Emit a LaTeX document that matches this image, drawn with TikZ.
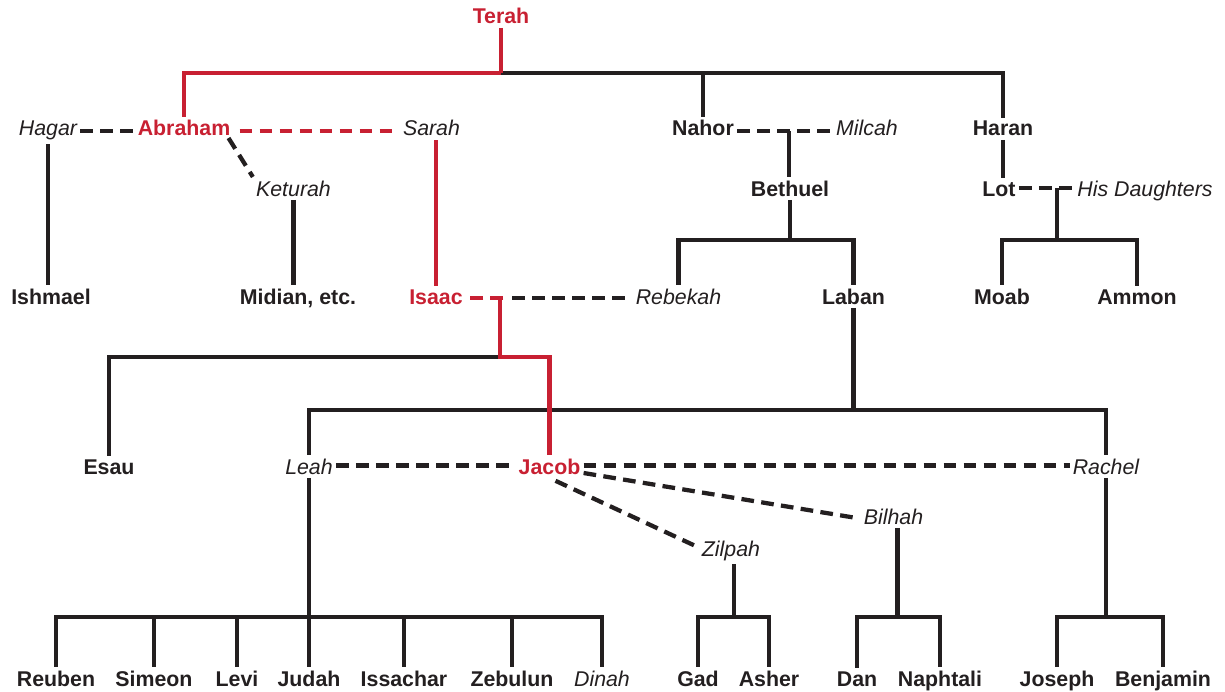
\documentclass[tikz,border=0pt]{standalone}
\usepackage{fontspec}
\setmainfont{Liberation Sans}
\usetikzlibrary{calc}
\definecolor{tred}{RGB}{200,32,50}
\definecolor{ink}{RGB}{35,31,32}
\begin{document}
\begin{tikzpicture}[x=0.75pt,y=-0.75pt,
  every node/.style={anchor=base,inner xsep=2.25pt,inner ysep=2.5pt},
  nm/.style={font=\fontsize{16}{19}\selectfont\bfseries,text=ink},
  sp/.style={font=\fontsize{16}{19}\selectfont\itshape,text=ink},
  hl/.style={font=\fontsize{16}{19}\selectfont\bfseries,text=tred},
  ln/.style={draw=ink,line width=3.2pt},
  rl/.style={draw=tred,line width=3.2pt},
  dsh/.style={dash pattern=on 9.5pt off 5.5pt}]
\useasboundingbox (0,0) rectangle (1225,692);
% helper levels
\coordinate (r73) at (0,73);
\coordinate (r240) at (0,240);
\coordinate (r357) at (0,357);
\coordinate (r410) at (0,410);
\coordinate (r617) at (0,617);
% nodes
\node[hl] (Terah) at (501,24) {Terah};
\node[sp] (Hagar) at (48,136) {Hagar};
\node[hl] (Abraham) at (184,136) {Abraham};
\node[sp] (Sarah) at (431.5,136) {Sarah};
\node[nm] (Nahor) at (703,136) {Nahor};
\node[sp] (Milcah) at (867,136) {Milcah};
\node[nm] (Haran) at (1003,136) {Haran};
\node[sp] (Keturah) at (293.5,196) {Keturah};
\node[nm] (Bethuel) at (790,196) {Bethuel};
\node[nm] (Lot) at (999,196) {Lot};
\node[sp] (HisD) at (1145,196) {His Daughters};
\node[nm] (Ishmael) at (51,304) {Ishmael};
\node[nm] (Midian) at (298,304) {Midian, etc.};
\node[hl] (Isaac) at (436,304) {Isaac};
\node[sp] (Rebekah) at (678.5,304) {Rebekah};
\node[nm] (Laban) at (853.5,304) {Laban};
\node[nm] (Moab) at (1002,304) {Moab};
\node[nm] (Ammon) at (1137,304) {Ammon};
\node[nm] (Esau) at (109,474) {Esau};
\node[sp] (Leah) at (309,474) {Leah};
\node[hl] (Jacob) at (549.5,474) {Jacob};
\node[sp] (Rachel) at (1106,474) {Rachel};
\node[sp] (Bilhah) at (893.5,524) {Bilhah};
\node[sp] (Zilpah) at (731,556) {Zilpah};
\node[nm] (Reuben) at (56,686) {Reuben};
\node[nm] (Simeon) at (154,686) {Simeon};
\node[nm] (Levi) at (237,686) {Levi};
\node[nm] (Judah) at (309,686) {Judah};
\node[nm] (Issachar) at (404,686) {Issachar};
\node[nm] (Zebulun) at (512,686) {Zebulun};
\node[sp] (Dinah) at (602,686) {Dinah};
\node[nm] (Gad) at (698,686) {Gad};
\node[nm] (Asher) at (769,686) {Asher};
\node[nm] (Dan) at (857,686) {Dan};
\node[nm] (Naphtali) at (940,686) {Naphtali};
\node[nm] (Joseph) at (1057,686) {Joseph};
\node[nm] (Benjamin) at (1163,686) {Benjamin};
% junction coordinates
\coordinate (tj) at (Terah.south |- r73);
\coordinate (nj) at (789,131);
\coordinate (lj) at (1057,188);
\coordinate (ij) at (500,298);
\coordinate (ej) at (500,357);
% ---- black lines ----
\draw[ln] (tj) -| (Haran.north);
\draw[ln] (Nahor.north) -- (Nahor.north |- r73);
\draw[ln,dsh] ($(Hagar.base east)+(0,-5)$) -- ($(Abraham.base west)+(0,-5)$);
\draw[ln] (Hagar.south) -- (Hagar.south |- Ishmael.north);
\draw[ln,dsh] ($(Abraham.base east)+(-5,2)$) -- (Keturah.north west);
\draw[ln] (Keturah.south) -- (Keturah.south |- Midian.north);
\draw[ln,dsh] ($(Nahor.base east)+(0,-5)$) -- ($(Milcah.base west)+(0,-5)$);
\draw[ln] (nj) -- (nj |- Bethuel.north);
\draw[ln] (Bethuel.south) -- (Bethuel.south |- r240) coordinate (bj);
\draw[ln] (Rebekah.north) |- (bj) -| (Laban.north);
\draw[ln] (Haran.south) -- (Haran.south |- Lot.north);
\draw[ln,dsh] ($(Lot.base east)+(0,-8)$) -- ($(HisD.base west)+(0,-8)$);
\draw[ln] (lj) -- (lj |- r240) coordinate (mj);
\draw[ln] (Moab.north) |- (mj) -| (Ammon.north);
\draw[ln,dsh,shorten >=4.5pt] ($(ij)+(12,0)$) -- ($(Rebekah.base west)+(0,-6)$);
\draw[ln] (Esau.north) |- (ej);
\draw[ln] (Laban.south) -- (Laban.south |- r410) coordinate (lb);
\draw[ln] (Leah.north) |- (lb) -| (Rachel.north);
\draw[ln,dsh] ($(Leah.base east)+(0,-8.5)$) -- ($(Jacob.base west)+(0,-8.5)$);
\draw[ln,dsh] ($(Jacob.base east)+(0,-8.5)$) -- ($(Rachel.base west)+(0,-8.5)$);
\draw[ln,dsh] ($(Jacob.base east)+(0,-1)$) -- ($(Bilhah.base west)+(-4,-6)$);
\draw[ln,dsh] ($(Jacob.south)+(6,3)$) -- ($(Zilpah.base west)+(-1,-9)$);
% Leah's children
\draw[ln] (Leah.south) -- (Leah.south |- r617) coordinate (lc);
\draw[ln] (Reuben.north) |- (lc) -| (Dinah.north);
\foreach \c in {Simeon,Levi,Judah,Issachar,Zebulun}
  \draw[ln] (\c.north) -- (\c.north |- r617);
% Zilpah's children
\draw[ln] ($(Zilpah.south)+(3,0)$) coordinate (zs) -- (zs |- r617) coordinate (zc);
\draw[ln] (Gad.north) |- (zc) -| (Asher.north);
% Bilhah's children
\draw[ln] ($(Bilhah.south)+(4,0)$) coordinate (bs) -- (bs |- r617) coordinate (bc);
\draw[ln] (Dan.north) |- (bc) -| (Naphtali.north);
% Rachel's children
\draw[ln] (Rachel.south) -- (Rachel.south |- r617) coordinate (rc);
\draw[ln] (Joseph.north) |- (rc) -| (Benjamin.north);
% ---- red line of descent ----
\draw[rl] (Terah.south) -- (tj);
\draw[rl] (Abraham.north) |- (tj);
\draw[rl,dsh,shorten <=4.5pt,shorten >=3.75pt] ($(Abraham.base east)+(0,-5)$) -- ($(Sarah.base west)+(0,-5)$);
\draw[rl] (Isaac.north) -- (Isaac.north |- Sarah.south);
\draw[rl,dsh] ($(ij)+(3,0)$) -- ($(Isaac.base east)+(0,-6)$);
\draw[rl] (ij) -- (ej) -| (Jacob.north);
\end{tikzpicture}
\end{document}
